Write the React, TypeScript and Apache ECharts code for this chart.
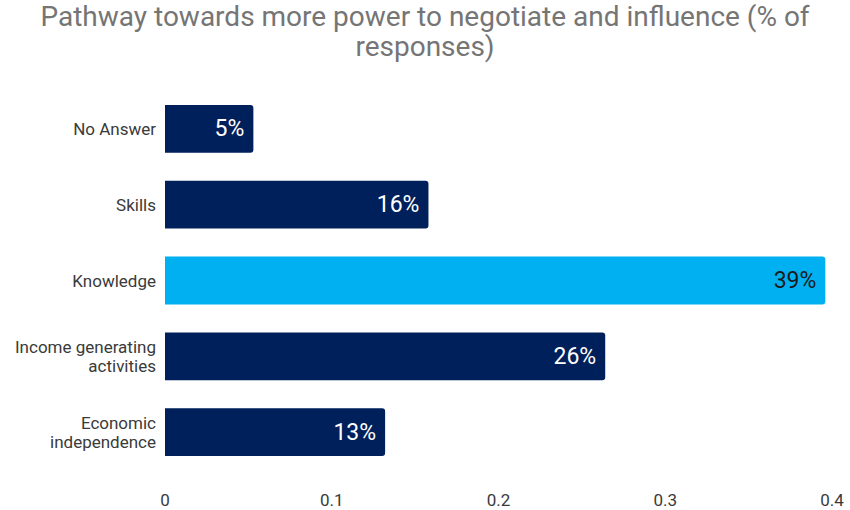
import React, { useEffect, useRef } from "react";
import * as echarts from "echarts";

const titleText = "Pathway towards more power to negotiate and influence (% of\nresponses)";
const categories = [
  "No Answer",
  "Skills",
  "Knowledge",
  "Income generating\nactivities",
  "Economic\nindependence",
];
const values = [0.053, 0.158, 0.396, 0.264, 0.132];
const valueLabels = ["5%", "16%", "39%", "26%", "13%"];
const highlightIndex = 2;
const xTicks = [0, 0.1, 0.2, 0.3, 0.4];

const DARK = "#00205B";
const LIGHT = "#00B0F0";

export default function App() {
  const ref = useRef<HTMLDivElement>(null);
  useEffect(() => {
    if (!ref.current) return;
    const chart = echarts.init(ref.current, null, { renderer: "svg" });
    chart.setOption({
      animation: false,
      backgroundColor: "#ffffff",
      textStyle: { fontFamily: "Roboto" },
      title: {
        text: titleText,
        left: "center",
        top: 0,
        padding: [1, 5, 0, 5],
        textStyle: {
          fontFamily: "Roboto",
          fontSize: 28,
          fontWeight: "normal",
          color: "#757575",
          lineHeight: 30,
        },
      },
      grid: { left: 165, right: 18, top: 91, bottom: 40, containLabel: false },
      xAxis: {
        type: "value",
        min: xTicks[0],
        max: xTicks[xTicks.length - 1],
        interval: 0.1,
        axisLine: { show: false },
        axisTick: { show: false },
        splitLine: { show: false },
        axisLabel: {
          color: "#3a3a3a",
          fontSize: 17,
          margin: 21,
          fontFamily: "Roboto",
        },
      },
      yAxis: {
        type: "category",
        inverse: true,
        data: categories,
        axisLine: { show: false },
        axisTick: { show: false },
        axisLabel: {
          color: "#3a3a3a",
          fontSize: 17,
          lineHeight: 19,
          margin: 9,
          fontFamily: "Roboto",
        },
      },
      series: [
        {
          type: "bar",
          barCategoryGap: "37%",
          data: values.map((v, i) => ({
            value: v,
            itemStyle: {
              color: i === highlightIndex ? LIGHT : DARK,
              borderRadius: [0, 3, 3, 0],
            },
            label: {
              color: i === highlightIndex ? "#1a1a1a" : "#ffffff",
            },
          })),
          label: {
            show: true,
            position: "insideRight",
            distance: 9,
            fontSize: 23,
            fontFamily: "Roboto",
            formatter: (p: any) => valueLabels[p.dataIndex],
          },
        },
      ],
    });
    return () => chart.dispose();
  }, []);
  return (
    <div
      ref={ref}
      style={{ position: "absolute", left: 0, top: 0, width: 850, height: 510 }}
    />
  );
}
